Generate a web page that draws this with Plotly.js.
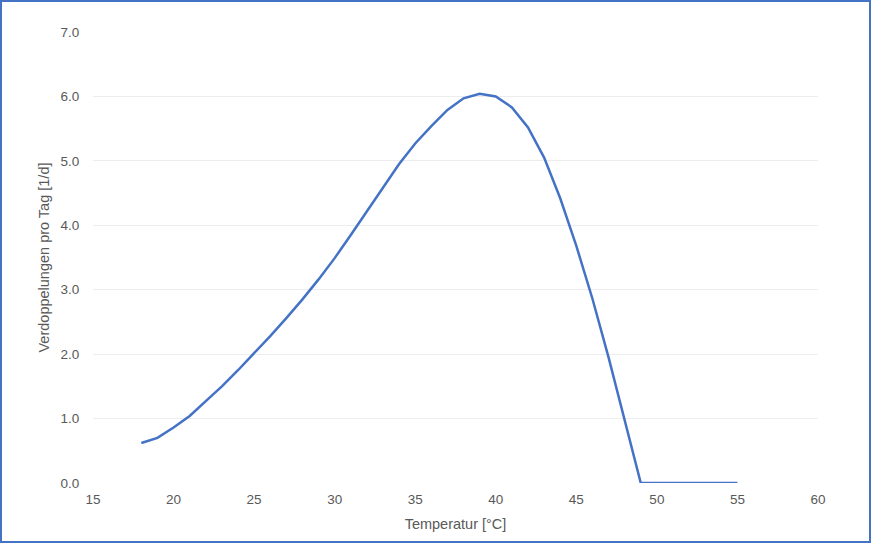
<!DOCTYPE html>
<html>
<head>
<meta charset="utf-8">
<script src="https://cdn.plot.ly/plotly-3.0.1.min.js"></script>
<style>
  html, body { margin: 0; padding: 0; background: #fff; }
  #wrap { position: relative; width: 872px; height: 544px; }
  #chart { position: absolute; left: 0; top: 0; width: 872px; height: 544px; }
  #frame { position: absolute; left: 0; top: 0; width: 871px; height: 543px; box-sizing: border-box;
           border: 2px solid #4472C4; pointer-events: none; }
</style>
</head>
<body>
<div id="wrap">
  <div id="chart"></div>
  <div id="frame"></div>
</div>
<script>
// Temperature [°C]
const temperature = [18,19,20,21,22,23,24,25,26,27,28,29,30,31,32,33,34,35,36,37,38,39,40,41,42,43,44,45,46,47,48,49,50,51,52,53,54,55];
// Doublings per day [1/d]
const doublings = [0.62,0.70,0.86,1.04,1.27,1.50,1.75,2.01,2.28,2.56,2.85,3.16,3.49,3.85,4.22,4.59,4.95,5.27,5.54,5.79,5.97,6.04,6.00,5.83,5.52,5.05,4.42,3.68,2.86,1.95,0.98,0.00,0.00,0.00,0.00,0.00,0.00,0.00];

const xTickVals = [15,20,25,30,35,40,45,50,55,60];
const yTickVals = [0,1,2,3,4,5,6,7];

const FONT = '"Liberation Sans", Arial, sans-serif';

Plotly.newPlot('chart', [{
  x: temperature,
  y: doublings,
  type: 'scatter',
  mode: 'lines',
  line: { color: '#4472C4', width: 2.5 },
  hoverinfo: 'x+y'
}], {
  width: 872,
  height: 544,
  margin: { l: 93, r: 54, t: 32, b: 61, pad: 0 },
  paper_bgcolor: '#ffffff',
  plot_bgcolor: '#ffffff',
  showlegend: false,
  font: { family: FONT, color: '#595959', size: 13 },
  xaxis: {
    range: [15, 60],
    tickvals: xTickVals,
    ticktext: xTickVals.map(String),
    showgrid: false,
    zeroline: false,
    showline: false,
    ticks: 'outside',
    ticklen: 4,
    tickcolor: 'rgba(0,0,0,0)',
    tickfont: { family: FONT, size: 13.5, color: '#595959' },
    title: { text: 'Temperatur [°C]', font: { family: FONT, size: 14.5, color: '#595959' }, standoff: 12 },
    fixedrange: true
  },
  yaxis: {
    range: [0, 7],
    tickvals: yTickVals,
    ticktext: yTickVals.map(v => v.toFixed(1)),
    showgrid: true,
    gridcolor: '#EDEDED',
    gridwidth: 1,
    zeroline: false,
    showline: false,
    ticks: 'outside',
    ticklen: 10,
    tickcolor: 'rgba(0,0,0,0)',
    tickfont: { family: FONT, size: 13.5, color: '#595959' },
    title: { text: 'Verdoppelungen pro Tag [1/d]', font: { family: FONT, size: 14.5, color: '#595959' }, standoff: 7 },
    fixedrange: true
  }
}, { displayModeBar: false, staticPlot: true });
</script>
</body>
</html>
